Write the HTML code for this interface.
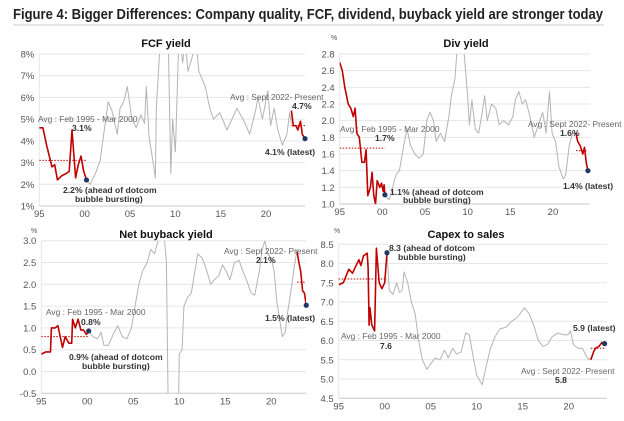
<!DOCTYPE html>
<html><head><meta charset="utf-8">
<style>
body{margin:0;background:#fff;width:624px;height:416px;overflow:hidden;font-family:"Liberation Sans",sans-serif;}
svg text{font-family:"Liberation Sans",sans-serif;}
</style></head>
<body>
<svg id="chart" width="624" height="416" xmlns="http://www.w3.org/2000/svg">
<text x="13" y="19" font-size="14.5" font-weight="bold" fill="#222" textLength="590" lengthAdjust="spacingAndGlyphs">Figure 4: Bigger Differences: Company quality, FCF, dividend, buyback yield are stronger today</text>
<line x1="13" y1="25" x2="604" y2="25" stroke="#ccc" stroke-width="1"/>
</svg>
<script>
// ---- FCF yield data ----
const fcfEarlyYears=[1995.0,1995.4,1995.8,1996.4,1996.7,1997.0,1997.5,1998.0,1998.3,1998.6,1999.0,1999.3,1999.6,1999.9,2000.2];
const fcfEarlyVals=[4.6,4.6,3.8,2.8,2.9,2.2,2.4,2.5,2.6,4.5,2.3,2.9,3.3,2.6,2.2];
const fcfMidYears=[2000.2,2000.6,2001.2,2001.7,2002.6,2003.0,2003.6,2003.9,2004.3,2004.7,2005.2,2005.7,2006.2,2006.6,2006.8,2007.1,2007.4,2007.8,2007.9,2008.4,2009.2,2009.5,2009.7,2010.0,2010.4,2010.8,2011.1,2011.4,2012.3,2012.6,2013.3,2013.8,2014.2,2014.9,2015.7,2016.8,2017.7,2018.2,2018.9,2019.1,2019.6,2020.2,2020.5,2020.9,2021.3,2021.8,2022.3,2022.6,2022.8];
const fcfMidVals=[2.2,2.0,2.5,3.1,5.8,5.4,4.3,5.5,5.8,6.5,5.0,4.6,5.2,4.8,6.5,4.2,3.4,2.3,5.5,9.0,9.0,2.5,5.0,3.5,9.0,7.6,8.5,7.2,8.5,7.2,6.5,5.5,5.0,5.3,4.5,5.5,4.8,4.3,5.5,6.0,5.0,6.3,4.7,5.5,4.5,3.8,4.3,5.3,4.8];
const fcfLateYears=[2022.8,2023.0,2023.3,2023.5,2023.8,2024.0,2024.3];
const fcfLateVals=[5.4,4.7,4.7,4.5,4.9,4.3,4.1];
const fcfYTicks=[1,2,3,4,5,6,7,8];
const fcfYLabels=["1%","2%","3%","4%","5%","6%","7%","8%"];
const fcfAvgEarly=3.1, fcfAvgLate=4.7;

// ---- Div yield data ----
const divEarlyYears=[1995.0,1995.3,1995.6,1996.0,1996.3,1996.6,1996.8,1997.0,1997.3,1997.6,1997.9,1998.1,1998.3,1998.6,1998.8,1999.0,1999.2,1999.4,1999.7,1999.9,2000.1,2000.2,2000.3];
const divEarlyVals=[2.7,2.6,2.4,2.2,2.15,2.05,2.15,1.85,1.8,1.5,1.5,1.65,1.1,1.2,1.38,1.1,1.0,1.28,1.2,1.25,1.15,1.23,1.11];
const divMidYears=[2000.3,2000.8,2001.2,2001.6,2002.0,2002.5,2002.9,2003.3,2003.8,2004.3,2004.8,2005.2,2005.6,2006.0,2006.3,2006.8,2007.3,2007.8,2008.1,2008.5,2008.8,2009.2,2009.6,2010.0,2010.2,2010.5,2010.9,2011.3,2011.7,2012.0,2012.3,2012.8,2013.3,2013.7,2014.2,2014.8,2015.3,2015.6,2016.0,2016.4,2016.8,2017.3,2017.8,2018.3,2018.8,2019.2,2019.6,2019.9,2020.3,2020.7,2021.2,2021.5,2021.9,2022.3,2022.7];
const divMidVals=[1.1,1.05,1.2,1.35,1.4,1.7,1.9,1.7,1.6,1.55,1.6,2.0,2.1,2.0,1.75,1.85,1.75,2.05,2.3,2.5,2.9,3.0,2.8,2.3,1.95,2.25,1.9,1.85,2.1,2.3,2.0,2.2,2.15,1.95,2.0,1.95,2.05,2.25,2.35,2.2,2.25,2.05,1.8,1.95,2.1,1.85,2.35,1.85,1.75,1.45,1.3,1.35,1.7,1.85,1.85];
const divLateYears=[2022.7,2022.9,2023.2,2023.5,2023.7,2023.9,2024.1];
const divLateVals=[1.85,1.75,1.7,1.6,1.68,1.5,1.4];
const divYTicks=[1.0,1.2,1.4,1.6,1.8,2.0,2.2,2.4,2.6,2.8];
const divYLabels=["1.0","1.2","1.4","1.6","1.8","2.0","2.2","2.4","2.6","2.8"];
const divAvgEarly=1.67, divAvgLate=1.64;

// ---- Net buyback yield data ----
const bbEarlyYears=[1995.0,1995.5,1996.0,1996.1,1996.5,1996.8,1997.3,1997.6,1998.0,1998.3,1998.4,1998.7,1999.0,1999.3,1999.6,1999.9,2000.15];
const bbEarlyVals=[0.4,0.45,0.45,1.0,1.0,1.05,0.55,0.8,0.65,0.65,1.2,1.0,1.2,0.95,0.95,0.85,0.93];
const bbMidYears=[2000.15,2000.6,2001.1,2001.5,2001.8,2002.3,2002.8,2003.3,2003.8,2004.3,2004.8,2005.2,2005.6,2006.0,2006.5,2006.9,2007.3,2007.7,2008.0,2008.4,2008.6,2008.8,2009.9,2010.0,2010.3,2010.5,2010.9,2011.3,2011.7,2012.0,2012.5,2013.0,2013.4,2013.8,2014.3,2014.7,2015.1,2015.5,2016.0,2016.5,2016.9,2017.3,2017.8,2018.2,2018.7,2019.0,2019.3,2019.6,2020.0,2020.3,2020.6,2020.9,2021.2,2021.5,2021.8,2022.1,2022.5,2022.8];
const bbMidVals=[0.93,0.8,0.75,0.9,0.6,0.6,0.85,1.05,0.8,0.75,1.0,1.5,2.0,2.3,2.5,2.8,2.7,3.0,3.1,3.0,2.5,-1.0,-1.0,0.4,0.5,1.5,1.7,1.8,2.3,2.7,2.6,2.3,2.0,2.1,2.2,2.45,2.3,2.1,2.5,2.55,2.3,2.1,1.8,1.75,2.3,2.8,3.0,2.7,2.6,2.3,1.6,1.2,0.8,0.9,1.4,1.8,2.4,2.8];
const bbLateYears=[2022.8,2023.0,2023.2,2023.4,2023.6,2023.8];
const bbLateVals=[2.75,2.5,2.3,1.85,1.8,1.52];
const bbYTicks=[-0.5,0,0.5,1,1.5,2,2.5,3];
const bbYLabels=["-0.5","0.0","0.5","1.0","1.5","2.0","2.5","3.0"];
const bbAvgEarly=0.8, bbAvgLate=2.05;

// ---- Capex to sales data ----
const cxEarlyYears=[1995.0,1995.5,1996.1,1996.5,1997.2,1997.4,1997.7,1998.1,1998.2,1998.3,1998.4,1998.6,1998.9,1999.1,1999.2,1999.4,1999.7,2000.0,2000.25];
const cxEarlyVals=[7.45,7.5,7.85,7.75,8.1,7.95,8.2,8.27,7.9,6.4,6.85,6.4,6.25,8.4,8.1,7.5,7.35,7.5,8.28];
const cxMidYears=[2000.25,2000.5,2000.9,2001.3,2001.6,2001.9,2002.1,2002.5,2002.9,2003.3,2003.7,2004.1,2004.6,2005.0,2005.5,2006.0,2006.5,2006.9,2007.4,2007.8,2008.3,2008.8,2009.2,2009.6,2010.0,2010.6,2011.0,2011.5,2012.0,2012.5,2013.2,2013.8,2014.4,2015.2,2015.7,2016.2,2016.7,2017.2,2017.7,2018.2,2018.8,2019.4,2019.9,2020.2,2020.5,2021.0,2021.5,2021.9,2022.2,2022.4];
const cxMidVals=[8.28,7.3,7.2,7.5,7.25,7.3,7.78,7.5,7.0,6.7,6.0,5.5,5.25,5.4,5.55,5.5,5.75,5.55,5.8,5.65,5.7,6.2,6.15,5.6,5.1,4.85,5.3,5.8,6.1,6.3,6.35,6.5,6.6,6.85,6.7,6.4,6.0,5.85,5.9,6.1,6.2,6.15,6.15,6.25,5.9,5.8,5.8,5.6,5.5,5.55];
const cxLateYears=[2022.4,2022.7,2022.9,2023.3,2023.6,2023.9];
const cxLateVals=[5.5,5.7,5.8,5.85,5.95,5.92];
const cxYTicks=[4.5,5,5.5,6,6.5,7,7.5,8,8.5];
const cxYLabels=["4.5","5.0","5.5","6.0","6.5","7.0","7.5","8.0","8.5"];
const cxAvgEarly=7.6, cxAvgLate=5.8;

const xTickYears=[1995,2000,2005,2010,2015,2020];
const xTickLabels=["95","00","05","10","15","20"];

const NS="http://www.w3.org/2000/svg";
const svg=document.getElementById('chart');
function mk(tag,attrs,parent){const e=document.createElementNS(NS,tag);for(const k in attrs)e.setAttribute(k,attrs[k]);(parent||svg).appendChild(e);return e;}
function txt(parent,x,y,s,opt){const t=mk('text',{x:x,y:y,'font-size':opt.size||9,fill:opt.fill||'#555','text-anchor':opt.anchor||'start','font-weight':opt.bold?'bold':'normal'},parent);t.textContent=s;return t;}

function panel(cfg){
  const g=mk('g',{});
  
  
  const X=y=>cfg.x0+(y-1995)*cfg.pxYr;
  const Y=v=>cfg.yTop+(cfg.yMax-v)/(cfg.yMax-cfg.yMin)*(cfg.yBot-cfg.yTop);
  const clipId='clip-'+cfg.name;
  const cp=mk('clipPath',{id:clipId},g);
  mk('rect',{x:cfg.x0,y:cfg.yTop,width:cfg.right-cfg.x0,height:cfg.yBot-cfg.yTop},cp);
  const tt=txt(g,cfg.titleX,cfg.titleY,cfg.title,{size:11,bold:true,fill:'#111',anchor:'middle'});
  
  
  if(cfg.pct){const p=txt(g,cfg.pctX,cfg.pctY,'%',{size:7,fill:'#555'});}
  cfg.yTicks.forEach((v,i)=>{
    const gl=mk('line',{x1:cfg.x0,x2:cfg.right,y1:Y(v),y2:Y(v),stroke:i===0?'#c8c8c8':'#e6e6e6','stroke-width':1},g);
    
    
    const l=txt(g,cfg.x0-5,Y(v)+3.5,cfg.yLabels[i],{size:9.5,anchor:'end',fill:'#555'});
    
    
  });
  mk('line',{x1:cfg.x0,x2:cfg.x0,y1:cfg.yTop,y2:cfg.yBot,stroke:'#e6e6e6'},g);
  xTickYears.forEach((yr,i)=>{
    const l=txt(g,X(yr),cfg.yBot+11,xTickLabels[i],{size:9.5,anchor:'middle',fill:'#555'});
    
    
  });
  const cg=mk('g',{'clip-path':'url(#'+clipId+')'},g);
  function line(ys,vs,color,w,name){
    const p=mk('path',{d:ys.map((y,i)=>(i?'L':'M')+X(y).toFixed(1)+','+Y(vs[i]).toFixed(1)).join(''),fill:'none',stroke:color,'stroke-width':w,'stroke-linejoin':'round'},cg);
    
    
  }
  function avg(y1,y2,v,name){
    const a=mk('line',{x1:X(y1),x2:X(y2),y1:Y(v),y2:Y(v),stroke:'#c00000','stroke-width':1,'stroke-dasharray':'1.5,1.5'},cg);
    
    
  }
  avg(1995,cfg.early[0][cfg.early[0].length-1],cfg.avgEarly,'avg-line-1995-2000');
  avg(cfg.late[0][0],cfg.late[0][cfg.late[0].length-1],cfg.avgLate,'avg-line-2022-present');
  line(cfg.mid[0],cfg.mid[1],'#b4b4b4',1,'series-line');
  line(cfg.early[0],cfg.early[1],'#c00000',1.6,'series-1995-2000');
  line(cfg.late[0],cfg.late[1],'#c00000',1.6,'series-2022-present');
  const e0=cfg.early[0].length-1, l0=cfg.late[0].length-1;
  const d1=mk('circle',{cx:X(cfg.early[0][e0]),cy:Y(cfg.early[1][e0]),r:2.6,fill:'#1f3864'},g);
  
  
  const d2=mk('circle',{cx:X(cfg.late[0][l0]),cy:Y(cfg.late[1][l0]),r:2.6,fill:'#1f3864'},g);
  
  
  cfg.labels.forEach(a=>{
    const t=txt(g,a[0],a[1],a[2],{size:a[3]?8.6:8.4,bold:a[3],fill:a[3]?'#333':'#666'});
    
    
  });
}

panel({name:'fcf-yield-panel',title:'FCF yield',titleX:166,titleY:47,x0:39.3,pxYr:9.07,right:305,yTop:54,yBot:206,yMin:1,yMax:8,
  yTicks:fcfYTicks,yLabels:fcfYLabels,early:[fcfEarlyYears,fcfEarlyVals],mid:[fcfMidYears,fcfMidVals],late:[fcfLateYears,fcfLateVals],
  avgEarly:fcfAvgEarly,avgLate:fcfAvgLate,
  labels:[[38,122,'Avg : Feb 1995 - Mar 2000',false],[72,131,'3.1%',true],[63,193,'2.2% (ahead of dotcom',true],[75,202,'bubble bursting)',true],[230,100,'Avg : Sept 2022- Present',false],[292,109,'4.7%',true],[265,155,'4.1% (latest)',true]]});
panel({name:'div-yield-panel',title:'Div yield',titleX:466,titleY:47,x0:339.7,pxYr:8.53,right:590,yTop:54,yBot:204,yMin:1,yMax:2.8,pct:true,pctX:331,pctY:40,
  yTicks:divYTicks,yLabels:divYLabels,early:[divEarlyYears,divEarlyVals],mid:[divMidYears,divMidVals],late:[divLateYears,divLateVals],
  avgEarly:divAvgEarly,avgLate:divAvgLate,
  labels:[[340,132,'Avg : Feb 1995 - Mar 2000',false],[375,141,'1.7%',true],[390,195,'1.1% (ahead of dotcom',true],[403,203,'bubble bursting)',true],[528,127,'Avg : Sept 2022- Present',false],[560,136,'1.6%',true],[563,189,'1.4% (latest)',true]]});
panel({name:'buyback-yield-panel',title:'Net buyback yield',titleX:166,titleY:238,x0:41.3,pxYr:9.2,right:306,yTop:240.7,yBot:393.3,yMin:-0.5,yMax:3,pct:true,pctX:31,pctY:233,
  yTicks:bbYTicks,yLabels:bbYLabels,early:[bbEarlyYears,bbEarlyVals],mid:[bbMidYears,bbMidVals],late:[bbLateYears,bbLateVals],
  avgEarly:bbAvgEarly,avgLate:bbAvgLate,
  labels:[[46,315,'Avg : Feb 1995 - Mar 2000',false],[81,325,'0.8%',true],[69,360,'0.9% (ahead of dotcom',true],[82,369,'bubble bursting)',true],[224,254,'Avg : Sept 2022- Present',false],[256,263,'2.1%',true],[265,321,'1.5% (latest)',true]]});
panel({name:'capex-sales-panel',title:'Capex to sales',titleX:466,titleY:238,x0:338.7,pxYr:9.2,right:607,yTop:244.3,yBot:398.3,yMin:4.5,yMax:8.5,pct:true,pctX:334,pctY:233,
  yTicks:cxYTicks,yLabels:cxYLabels,early:[cxEarlyYears,cxEarlyVals],mid:[cxMidYears,cxMidVals],late:[cxLateYears,cxLateVals],
  avgEarly:cxAvgEarly,avgLate:cxAvgLate,
  labels:[[389,251,'8.3 (ahead of dotcom',true],[398,260,'bubble bursting)',true],[341,339,'Avg : Feb 1995 - Mar 2000',false],[380,349,'7.6',true],[573,331,'5.9 (latest)',true],[521,374,'Avg : Sept 2022- Present',false],[555,383,'5.8',true]]});
</script>
</body></html>
